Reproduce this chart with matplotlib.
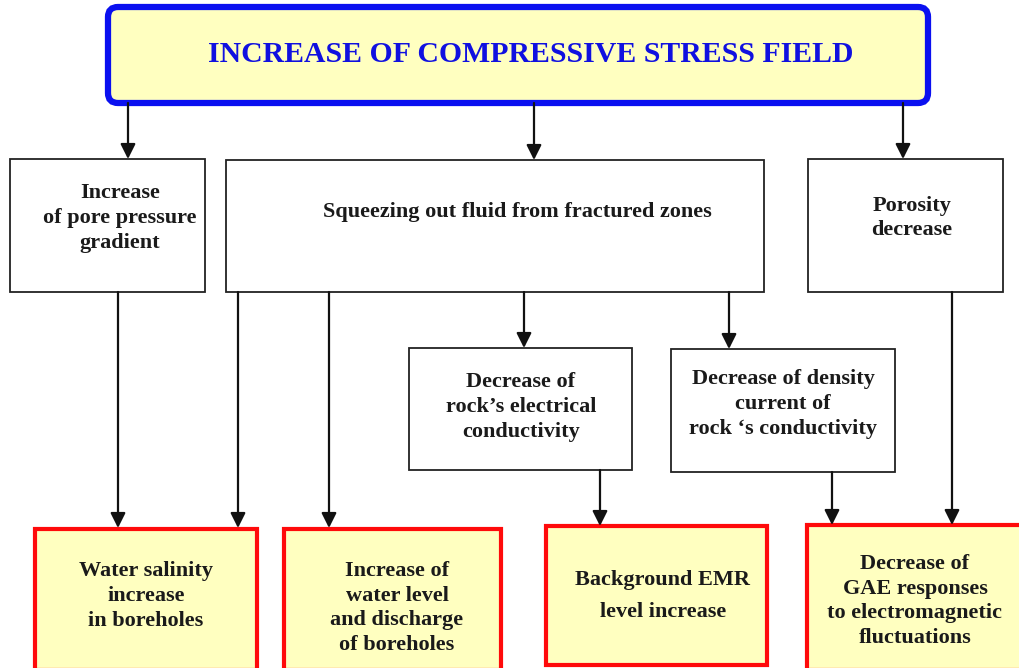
import matplotlib
matplotlib.use("Agg")
import matplotlib.pyplot as plt
from matplotlib.patches import Rectangle, FancyBboxPatch

# ===== テキスト（図の内容） =====================================================
title_text = "INCREASE OF COMPRESSIVE STRESS FIELD"

middle_labels = [
    "Increase\nof pore pressure\ngradient",
    "Squeezing out fluid from fractured zones",
    "Porosity\ndecrease",
    "Decrease of\nrock\u2019s electrical\nconductivity",
    "Decrease of density\ncurrent of\nrock \u2018s conductivity",
]

result_labels = [
    "Water salinity\nincrease\nin boreholes",
    "Increase of\nwater level\nand discharge\nof boreholes",
    "Background EMR\nlevel increase",
    "Decrease of\nGAE responses\nto electromagnetic\nfluctuations",
]

# ===== レイアウト（ピクセル座標: x0, y0, x1, y1） ===================================
W, H = 1020, 668
top_box = (108, 7, 928, 103)
middle_boxes = [
    (10, 159, 205, 292),
    (226, 160, 764, 292),
    (808, 159, 1003, 292),
    (409, 348, 632, 470),
    (671, 349, 895, 472),
]
middle_text_pos = [(120, 218, 1.33), (517, 212, 1.33), (912, 218, 1.33),
                   (521, 407, 1.33), (783, 404, 1.33)]
result_boxes = [
    (35, 529, 257, 670),
    (284, 529, 501, 670),
    (546, 526, 767, 665),
    (807, 525, 1022, 670),
]
result_text_pos = [(146, 596, 1.33), (397, 608, 1.33), (663, 596, 1.75), (915, 601, 1.33)]

# 矢印 (x, y_start, y_end)
arrows = [
    (128, 103, 159), (534, 103, 160), (903, 103, 159),
    (118, 292, 528), (238, 292, 528), (329, 292, 528),
    (524, 292, 348), (729, 292, 349),
    (600, 470, 526), (832, 472, 525), (952, 292, 525),
]

FONT = ["Liberation Serif", "DejaVu Serif"]
TXT = "#1a1a1a"
FILL = "#ffffc0"
FS = 16

fig = plt.figure(figsize=(W / 100, H / 100), dpi=100)
ax = fig.add_axes([0, 0, 1, 1])
ax.set_xlim(0, W)
ax.set_ylim(H, 0)
ax.axis("off")

# 上部ボックス
x0, y0, x1, y1 = top_box
ax.add_patch(FancyBboxPatch((x0, y0), x1 - x0, y1 - y0,
                            boxstyle="round,pad=0,rounding_size=10",
                            fc=FILL, ec="#0a10f0", lw=4.5, zorder=2))
ax.text(531, 54, title_text, family=FONT,
        weight="bold", fontsize=21.4, color="#1010e0", ha="center", va="center")

# 中段ボックス
for (bx0, by0, bx1, by1), lab, (tx, ty, ls) in zip(middle_boxes, middle_labels, middle_text_pos):
    ax.add_patch(Rectangle((bx0, by0), bx1 - bx0, by1 - by0,
                           fc="white", ec="#222222", lw=1.3, zorder=2))
    ax.text(tx, ty, lab, family=FONT, weight="bold", fontsize=FS, color=TXT,
            ha="center", va="center", linespacing=ls, zorder=3)

# 結果ボックス
for (bx0, by0, bx1, by1), lab, (tx, ty, ls) in zip(result_boxes, result_labels, result_text_pos):
    ax.add_patch(Rectangle((bx0, by0), bx1 - bx0, by1 - by0,
                           fc=FILL, ec="#ff0a0a", lw=3, zorder=2))
    ax.text(tx, ty, lab, family=FONT, weight="bold", fontsize=FS, color=TXT,
            ha="center", va="center", linespacing=ls, zorder=3)

# 矢印
for x, ys, ye in arrows:
    ax.annotate("", xy=(x, ye), xytext=(x, ys),
                arrowprops=dict(arrowstyle="-|>,head_length=0.9,head_width=0.45",
                                lw=1.6, color="#111111", shrinkA=0, shrinkB=0),
                zorder=4)

fig.savefig("out.png", dpi=100)
